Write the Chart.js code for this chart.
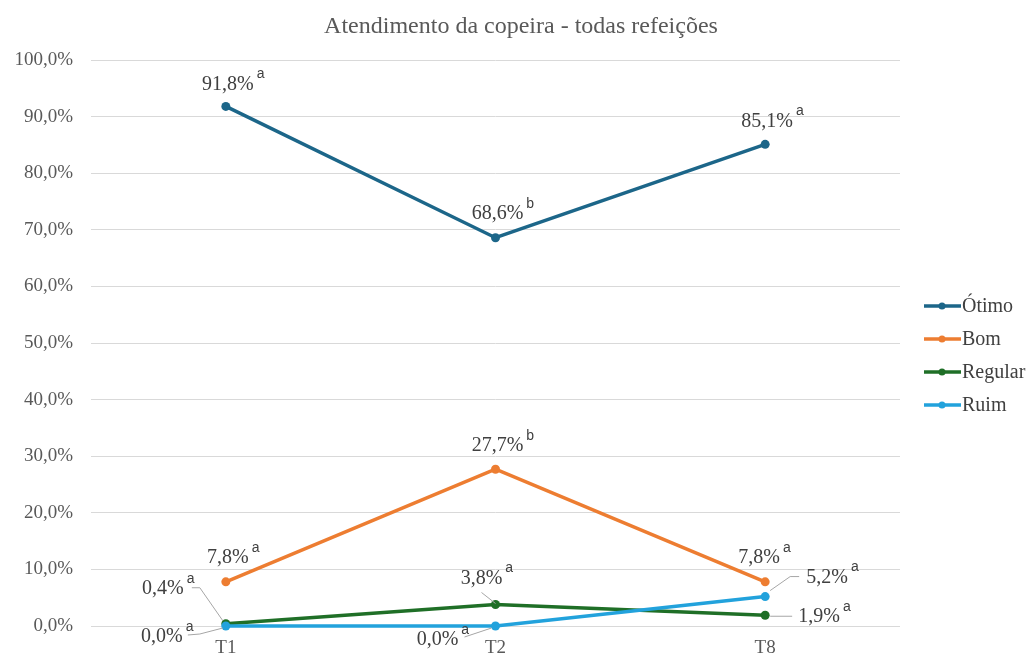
<!DOCTYPE html>
<html>
<head>
<meta charset="utf-8">
<script src="https://cdn.jsdelivr.net/npm/chart.js@4.4.1/dist/chart.umd.min.js"></script>
<style>
  body { margin: 0; background: #fff; }
  canvas { display: block; }
</style>
</head>
<body>
<canvas id="chart" width="1030" height="657"></canvas>
<script>
// Atendimento da copeira - valores por avaliação e tempo
const categories = ['T1', 'T2', 'T8'];
const seriesNames = ['Ótimo', 'Bom', 'Regular', 'Ruim'];
const otimo = [91.8, 68.6, 85.1];
const bom = [7.8, 27.7, 7.8];
const regular = [0.4, 3.8, 1.9];
const ruim = [0.0, 0.0, 5.2];
const otimoLetters = ['a', 'b', 'a'];
const bomLetters = ['a', 'b', 'a'];
const regularLetters = ['a', 'a', 'a'];
const ruimLetters = ['a', 'a', 'a'];
const yTickStep = 10;

const colors = ['#1c6689', '#ed7d31', '#1f6f27', '#22a2dc'];
const serif = '"Liberation Serif", "Times New Roman", serif';
const sans = '"Liberation Sans", Arial, sans-serif';

// label offsets from each point (text centre) and optional leader lines
const labelPlaces = [
  [{ dx: 2, dy: -22 }, { dx: 2, dy: -24 }, { dx: 2, dy: -23 }],
  [{ dx: 2, dy: -24 }, { dx: 2, dy: -23 }, { dx: -6, dy: -24 }],
  [
    { dx: -63, dy: -35, leader: [[-34, -36], [-26, -36], [-3, -3]] },
    { dx: -14, dy: -26, leader: [[-14, -12], [0, -1]] },
    { dx: 54, dy: 2, leader: [[5, 1], [27, 1]] }
  ],
  [
    { dx: -64, dy: 11, leader: [[-38, 9], [-26, 8], [-3, 2]] },
    { dx: -58, dy: 14, leader: [[-31, 11], [-4, 2]] },
    { dx: 62, dy: -19, leader: [[5, -6], [25, -20], [34, -20]] }
  ]
];

function fmt(v) {
  return v.toFixed(1).replace('.', ',') + '%';
}

const valueLabels = {
  id: 'valueLabels',
  afterDatasetsDraw(chart) {
    const ctx = chart.ctx;
    ctx.save();
    chart.data.datasets.forEach((ds, di) => {
      const meta = chart.getDatasetMeta(di);
      meta.data.forEach((pt, i) => {
        const place = labelPlaces[di][i];
        if (place.leader) {
          ctx.strokeStyle = '#a6a6a6';
          ctx.lineWidth = 1;
          ctx.beginPath();
          place.leader.forEach((p, k) => {
            if (k === 0) ctx.moveTo(pt.x + p[0], pt.y + p[1]);
            else ctx.lineTo(pt.x + p[0], pt.y + p[1]);
          });
          ctx.stroke();
        }
        const text = fmt(ds.data[i]);
        const tx = pt.x + place.dx;
        const ty = pt.y + place.dy;
        ctx.font = '20px ' + serif;
        ctx.fillStyle = '#404040';
        ctx.textAlign = 'center';
        ctx.textBaseline = 'middle';
        ctx.fillText(text, tx, ty);
        const w = ctx.measureText(text).width;
        ctx.font = '14px ' + sans;
        ctx.textAlign = 'left';
        ctx.fillText(ds.letters[i], tx + w / 2 + 3, ty - 10);
      });
    });
    ctx.restore();
  }
};

const titleAndLegend = {
  id: 'titleAndLegend',
  afterDraw(chart) {
    const ctx = chart.ctx;
    ctx.save();
    ctx.fillStyle = '#595959';
    ctx.font = '24px ' + serif;
    ctx.textAlign = 'center';
    ctx.textBaseline = 'middle';
    ctx.fillText('Atendimento da copeira - todas refeições', 521, 27);

    chart.data.datasets.forEach((ds, i) => {
      const y = 306 + i * 33;
      ctx.strokeStyle = ds.borderColor;
      ctx.lineWidth = 3.5;
      ctx.beginPath();
      ctx.moveTo(924, y);
      ctx.lineTo(961, y);
      ctx.stroke();
      ctx.fillStyle = ds.borderColor;
      ctx.beginPath();
      ctx.arc(942, y, 3.5, 0, Math.PI * 2);
      ctx.fill();
      ctx.fillStyle = '#404040';
      ctx.font = '20px ' + serif;
      ctx.textAlign = 'left';
      ctx.fillText(ds.label, 962, y + 1);
    });
    ctx.restore();
  }
};

const seriesValues = [otimo, bom, regular, ruim];
const seriesLetters = [otimoLetters, bomLetters, regularLetters, ruimLetters];

const datasets = seriesNames.map((name, i) => ({
  label: name,
  data: seriesValues[i],
  letters: seriesLetters[i],
  borderColor: colors[i],
  backgroundColor: colors[i],
  pointBackgroundColor: colors[i],
  pointBorderColor: colors[i],
  pointRadius: 4.5,
  pointBorderWidth: 0,
  borderWidth: 3.5,
  tension: 0,
  clip: false,
  order: 3 - i
}));

new Chart(document.getElementById('chart'), {
  type: 'line',
  data: { labels: categories, datasets: datasets },
  options: {
    responsive: false,
    animation: false,
    devicePixelRatio: 1,
    layout: { padding: { top: 60, right: 130, bottom: 0, left: 0 } },
    plugins: {
      legend: { display: false },
      title: { display: false },
      tooltip: { enabled: false }
    },
    scales: {
      x: {
        offset: true,
        grid: { display: false, drawTicks: false },
        border: { display: false },
        ticks: { color: '#595959', font: { family: serif, size: 19 }, padding: 11 },
        afterFit(scale) { scale.height = 31; }
      },
      y: {
        min: 0,
        max: 100,
        grid: { color: '#d9d9d9', lineWidth: 1, drawTicks: false },
        border: { display: false },
        ticks: {
          stepSize: yTickStep,
          color: '#595959',
          font: { family: serif, size: 19 },
          padding: 18,
          callback: (v) => fmt(v)
        },
        afterFit(scale) { scale.width = 91; }
      }
    }
  },
  plugins: [valueLabels, titleAndLegend]
});
</script>
</body>
</html>
